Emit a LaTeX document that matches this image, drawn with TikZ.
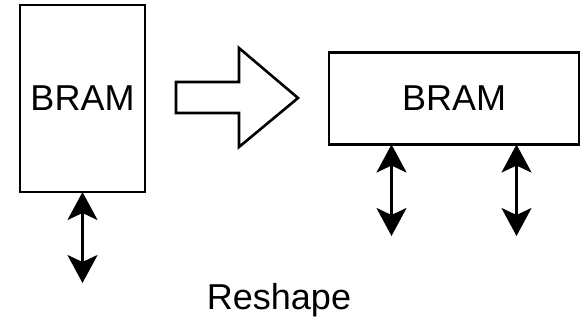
\documentclass[tikz,border=0pt]{standalone}
\usepackage{fontspec}
\setmainfont{Liberation Sans}
\usepackage{tikz}
\usetikzlibrary{arrows.meta,positioning}

\begin{document}
\begin{tikzpicture}[x=0.5pt,y=-0.5pt,
  mem/.style={draw=black,line width=1.3pt,fill=white,outer sep=0pt,inner sep=0pt,
    font=\fontsize{18}{22}\selectfont},
  port/.style={{Stealth[length=14pt,width=15pt,inset=3.5pt]}-{Stealth[length=14pt,width=15pt,inset=3.5pt]},line width=1.2pt,draw=black},
  fatarr/.style={draw=black,line width=1.3pt,fill=white,line join=miter}]
\useasboundingbox (0,0) rectangle (583,321);
% before
\node[mem,minimum width=62.5pt,minimum height=93.5pt] (tall) at (82.5,98.5) {BRAM};
\coordinate (tallio) at (82.5,283);
\draw[port] (tall.south) -- (tallio);
% the big arrow
\draw[fatarr] (176,82) -- (239,82) -- (239,48) -- (298,98) -- (239,147) -- (239,113) -- (176,113) -- cycle;
% after
\node[mem,minimum width=125pt,minimum height=46pt] (wide) at (454,98.5) {BRAM};
\coordinate (wideioa) at (391.5,236);
\coordinate (wideiob) at (516.5,236);
\draw[port] (wideioa |- wide.south) -- (wideioa);
\draw[port] (wideiob |- wide.south) -- (wideiob);
\node[anchor=base,font=\fontsize{18}{22}\selectfont,inner sep=0pt] (cap) at (279,309) {Reshape};
\end{tikzpicture}
\end{document}
